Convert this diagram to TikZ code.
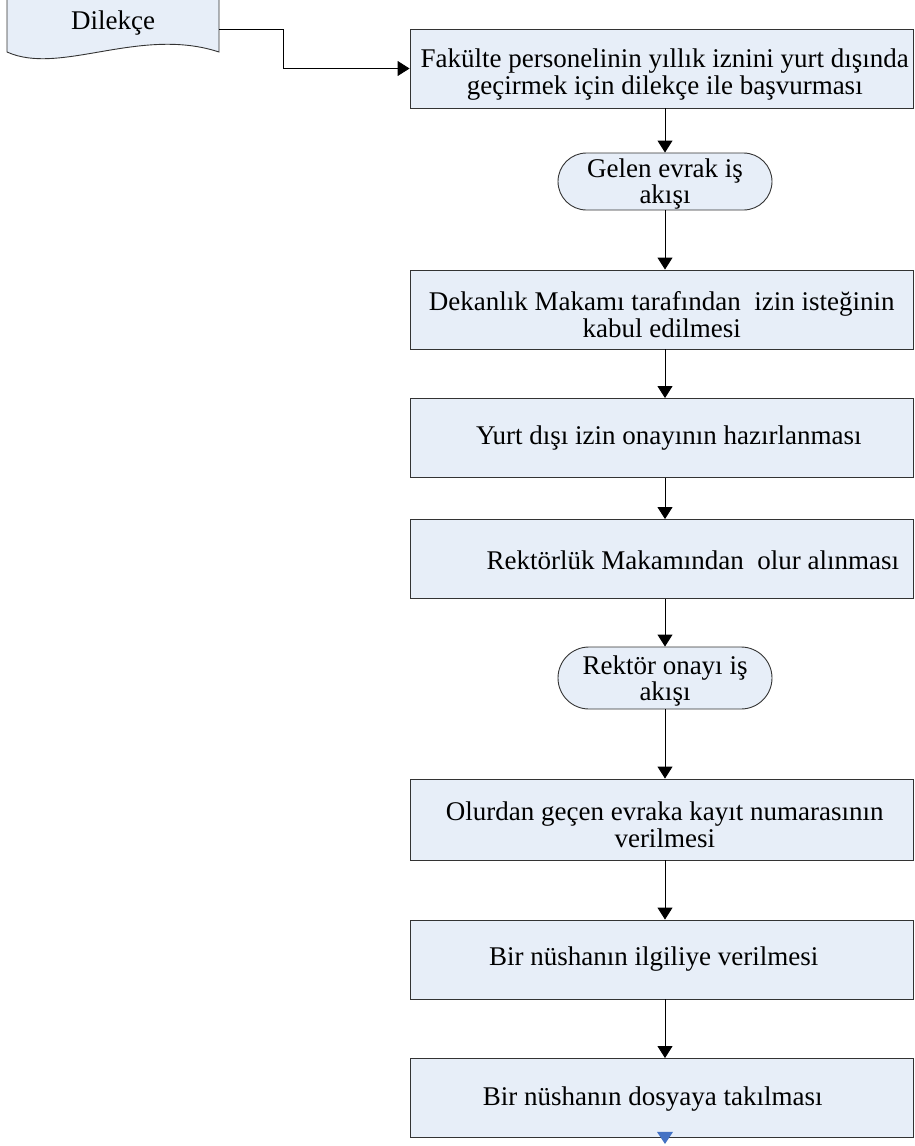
\documentclass[tikz,border=0pt]{standalone}
\usepackage{fontspec}
\setmainfont{Liberation Serif}
\usetikzlibrary{arrows.meta,calc}
\definecolor{boxfill}{HTML}{E7EEF8}
\definecolor{tipblue}{HTML}{4472C4}
\begin{document}
\begin{tikzpicture}[x=1pt,y=-1pt,
  font=\fontsize{27}{27}\selectfont,
  procbox/.style={draw=black!80, line width=0.9pt, fill=boxfill, rectangle,
    minimum width=503.5pt, minimum height=79pt, inner sep=0pt},
  termbox/.style={draw=black!80, line width=0.9pt, fill=boxfill, rectangle,
    minimum width=214pt, inner sep=0pt},
  boxtext/.style={inner sep=0pt, align=center, font=\fontsize{27}{27}\selectfont},
  termtext/.style={inner sep=0pt, align=center, font=\fontsize{27}{26}\selectfont},
  arr/.style={draw=black, line width=0.9pt, -{Triangle[length=12pt,width=15pt]}}]
\useasboundingbox (0,0) rectangle (914,1146);
% document shape
\draw[draw=black!80, line width=0.9pt, fill=boxfill]
  (7,-3) -- (7,52) .. controls (60,76) and (140,26) .. (219,52) -- (219,-3);
\node[boxtext] (doc) at (113,23) {Dilekçe};
\coordinate (docout) at (219,29);
% boxes
\node[procbox] (b1) at (661.75,68.5) {};
\node[termbox, minimum height=57pt, rounded corners=28.5pt] (t1) at (665,181.5) {};
\node[procbox] (b2) at (661.75,309.5) {};
\node[procbox] (b3) at (661.75,438) {};
\node[procbox] (b4) at (661.75,559) {};
\node[termbox, minimum height=62pt, rounded corners=31pt] (t2) at (665,678) {};
\node[procbox, minimum height=81pt] (b5) at (661.75,819.5) {};
\node[procbox] (b6) at (661.75,959.5) {};
\node[procbox] (b7) at (661.75,1098) {};
% texts
\node[boxtext] (b1t) at ($(b1)+(3,6)$) {Fakülte personelinin yıllık iznini yurt dışında\\geçirmek için dilekçe ile başvurması};
\node[termtext] (t1t) at ($(t1)+(0,3)$) {Gelen evrak iş\\akışı};
\node[boxtext] (b2t) at ($(b2)+(0,5)$) {Dekanlık Makamı tarafından\ \ izin isteğinin\\kabul edilmesi};
\node[boxtext] (b3t) at ($(b3)+(7,0)$) {Yurt dışı izin onayının hazırlanması};
\node[boxtext] (b4t) at ($(b4)+(31,1)$) {Rektörlük Makamından\ \ olur alınması};
\node[termtext] (t2t) at ($(t2)+(0,3)$) {Rektör onayı iş\\akışı};
\node[boxtext] (b5t) at ($(b5)+(3,5)$) {Olurdan geçen evraka kayıt numarasının\\verilmesi};
\node[boxtext] (b6t) at ($(b6)+(-8,0)$) {Bir nüshanın ilgiliye verilmesi};
\node[boxtext] (b7t) at ($(b7)+(-9,1)$) {Bir nüshanın dosyaya takılması};
% connectors
\draw[arr] (docout) -- (283,29) |- (b1.west);
\draw[arr] (b1.south -| t1.center) -- (t1.north);
\draw[arr] (t1.south) -- (b2.north -| t1.center);
\draw[arr] (b2.south -| t1.center) -- (b3.north -| t1.center);
\draw[arr] (b3.south -| t1.center) -- (b4.north -| t1.center);
\draw[arr] (b4.south -| t2.center) -- (t2.north);
\draw[arr] (t2.south) -- (b5.north -| t2.center);
\draw[arr] (b5.south -| t2.center) -- (b6.north -| t2.center);
\draw[arr] (b6.south -| t2.center) -- (b7.north -| t2.center);
% blue tip at bottom
\fill[tipblue] ($(b7.south -| t2.center)+(-8,-6)$) -- ++(16,0) -- ++(-8,12) -- cycle;
\end{tikzpicture}
\end{document}
